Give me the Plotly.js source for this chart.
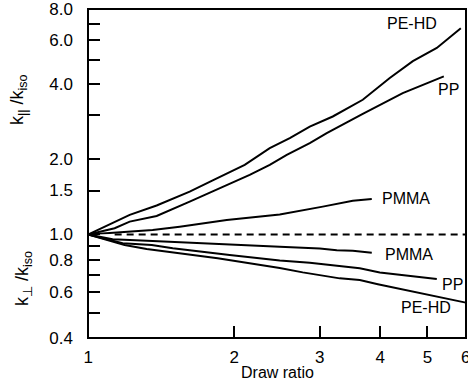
<!DOCTYPE html>
<html>
<head>
<meta charset="utf-8">
<script src="https://cdn.plot.ly/plotly-3.0.1.min.js"></script>
<style>html,body{margin:0;padding:0;background:#fff;}#chart{width:468px;height:382px;}</style>
</head>
<body>
<div id="chart"></div>
<script>
// Upper panel: k_parallel / k_iso
const peParX = [1, 1.218, 1.384, 1.619, 1.806, 2.102, 2.367, 2.603, 2.862, 3.192, 3.680, 4.183, 4.667, 5.229, 5.860];
const peParY = [1, 1.198, 1.307, 1.485, 1.647, 1.900, 2.218, 2.432, 2.707, 2.970, 3.465, 4.234, 4.946, 5.588, 6.696];
const ppParX = [1, 1.134, 1.218, 1.384, 1.619, 1.930, 2.152, 2.367, 2.566, 2.862, 3.102, 3.680, 4.449, 5.406];
const ppParY = [1, 1.059, 1.126, 1.186, 1.354, 1.580, 1.733, 1.900, 2.084, 2.323, 2.547, 3.045, 3.687, 4.298];
const pmmaParX = [1, 1.358, 1.544, 1.930, 2.482, 2.768, 3.044, 3.510, 3.841];
const pmmaParY = [1, 1.042, 1.075, 1.143, 1.203, 1.246, 1.293, 1.366, 1.388];
// Lower panel: k_perp / k_iso
const pmmaPerX = [1, 1.123, 1.358, 1.596, 2.122, 2.482, 3.001, 3.253, 3.510, 3.841];
const pmmaPerY = [1, 0.958, 0.944, 0.930, 0.905, 0.897, 0.883, 0.869, 0.866, 0.851];
const ppPerX = [1, 1.178, 1.352, 1.494, 1.957, 2.482, 2.862, 3.628, 3.990, 5.229];
const ppPerY = [1, 0.925, 0.911, 0.885, 0.834, 0.795, 0.778, 0.741, 0.714, 0.674];
const pePerX = [1, 1.189, 1.320, 1.619, 1.849, 2.482, 2.768, 3.299, 3.628, 3.953, 5.058, 6.0];
const pePerY = [1, 0.911, 0.879, 0.834, 0.810, 0.743, 0.715, 0.678, 0.668, 0.644, 0.584, 0.547];
// Reference line (isotropic level)
const refX = [1.134, 6];
const refY = [1, 1];
// Tick labels
const xTickVals = [1, 2, 3, 4, 5, 6];
const xTickText = ["1", "2", "3", "4", "5", "6"];
const yUpVals = [1.5, 2, 4, 6, 8];
const yUpText = ["1.5", "2.0", "4.0", "6.0", "8.0"];
const yUpMinor = [3, 5, 7];
const yLoVals = [0.4, 0.6, 0.8, 1.0];
const yLoText = ["0.4", "0.6", "0.8", "1.0"];
const yLoMinor = [0.5, 0.7, 0.9];

const FONT = "Liberation Sans, Arial, Helvetica, sans-serif";
const line = {color: "#000", width: 2};

const traces = [
  {x: peParX, y: peParY, yaxis: "y", mode: "lines", line: line},
  {x: ppParX, y: ppParY, yaxis: "y", mode: "lines", line: line},
  {x: pmmaParX, y: pmmaParY, yaxis: "y", mode: "lines", line: line},
  {x: pmmaPerX, y: pmmaPerY, yaxis: "y2", mode: "lines", line: line},
  {x: ppPerX, y: ppPerY, yaxis: "y2", mode: "lines", line: line},
  {x: pePerX, y: pePerY, yaxis: "y2", mode: "lines", line: line},
  {x: refX, y: refY, yaxis: "y2", mode: "lines", line: {color: "#000", width: 2, dash: "7px,5px"}}
];

const split = 0.3146;
const minorTick = {ticks: "inside", ticklen: 12, tickwidth: 2, tickcolor: "#000", showgrid: false};
const axCommon = {
  type: "log", showgrid: false, zeroline: false, showline: false,
  ticks: "inside", ticklen: 12, tickwidth: 2, tickcolor: "#000",
  ticklabeloverflow: "allow",
  tickfont: {family: FONT, size: 17, color: "#000"}, tickmode: "array"
};

const ann = (text, x, y, extra) => Object.assign({
  text: text, x: x, y: y, xref: "paper", yref: "paper", showarrow: false,
  xanchor: "center", yanchor: "middle", font: {family: FONT, size: 16, color: "#000"}
}, extra || {});

const layout = {
  width: 468, height: 382,
  margin: {l: 88, r: 2, t: 9, b: 44},
  paper_bgcolor: "#fff", plot_bgcolor: "rgba(0,0,0,0)",
  showlegend: false,
  xaxis: Object.assign({}, axCommon, {range: [-0.0003, Math.log10(6.006)], tickvals: xTickVals, ticktext: xTickText, anchor: "y2", ticklabelstandoff: 7}),
  yaxis: Object.assign({}, axCommon, {domain: [split, 1], range: [0, Math.log10(8.004)], tickvals: yUpVals, ticktext: yUpText, anchor: "x", ticklabelstandoff: 14,
    minor: Object.assign({tickmode: "array", tickvals: yUpMinor}, minorTick)}),
  yaxis2: Object.assign({}, axCommon, {domain: [0, split + 0.0068], range: [Math.log10(0.3998), Math.log10(1.02)], tickvals: yLoVals, ticktext: yLoText, anchor: "x", ticklabelstandoff: 14,
    minor: Object.assign({tickmode: "array", tickvals: yLoMinor}, minorTick)}),
  shapes: [
    {type: "rect", xref: "paper", yref: "paper", x0: 0, x1: 1, y0: 0, y1: 1, line: {color: "#000", width: 2}}
  ],
  annotations: [
    ann("PE-HD", 0.857, 0.955),
    ann("PP", 0.955, 0.754),
    ann("PMMA", 0.840, 0.4225),
    ann("PMMA", 0.8505, 0.2523),
    ann("PP", 0.9656, 0.164),
    ann("PE-HD", 0.894, 0.0912),
    ann("Draw ratio", 0.5026, -0.106),
    ann("k<sub>||</sub> /k<sub>iso</sub>", -0.185, 0.7234, {textangle: -90, font: {family: FONT, size: 18, color: "#000"}}),
    ann("k<sub>⊥</sub> /k<sub>iso</sub>", -0.172, 0.182, {textangle: -90, font: {family: FONT, size: 18, color: "#000"}})
  ]
};

Plotly.newPlot("chart", traces, layout, {staticPlot: true, displayModeBar: false});
</script>
</body>
</html>
